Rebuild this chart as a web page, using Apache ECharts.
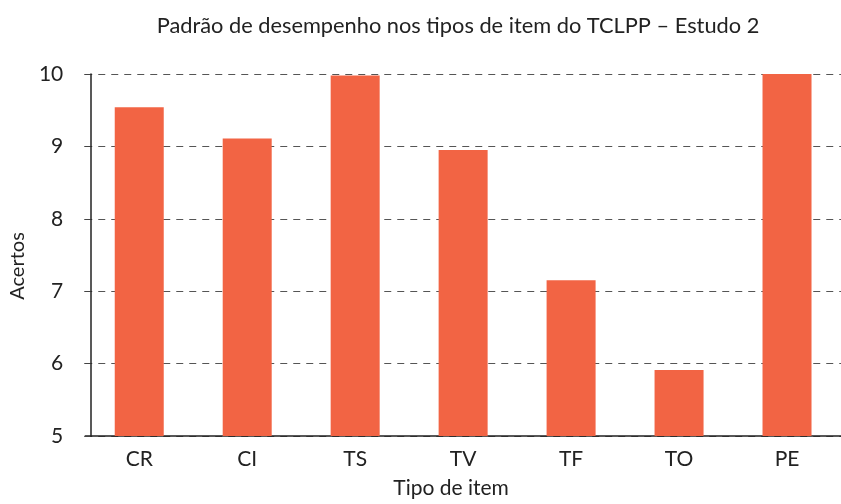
<!DOCTYPE html>
<html><head><meta charset="utf-8">
<script src="https://cdn.jsdelivr.net/npm/echarts@6/dist/echarts.min.js"></script>
<style>html,body{margin:0;padding:0;background:#fff}#c{width:841px;height:504px}</style>
</head><body><div id="c"></div>
<script>
const categories = ['CR','CI','TS','TV','TF','TO','PE'];
const values = [9.54, 9.11, 9.98, 8.95, 7.15, 5.91, 10.0];
const yTicks = [5,6,7,8,9,10];
const titleText = 'Padrão de desempenho nos tipos de item do TCLPP – Estudo 2';
const font = 'Lato';
const chart = echarts.init(document.getElementById('c'), null, {renderer:'canvas'});
chart.setOption({
  animation:false,
  backgroundColor:'#fff',
  title:{text:titleText,left:453,top:10,textAlign:'center',textStyle:{fontFamily:font,fontSize:21.8,fontWeight:'normal',color:'#222'}},
  grid:{left:82,right:-11,top:74,bottom:62,containLabel:false},
  xAxis:{type:'category',data:categories,
    name:'Tipo de item',nameLocation:'middle',nameGap:42,
    nameTextStyle:{fontFamily:font,fontSize:21,color:'#222',padding:[0,24,0,0]},
    axisLine:{lineStyle:{color:'#222',width:1.5}},
    axisTick:{show:false},
    axisLabel:{fontFamily:font,fontSize:21,color:'#222',margin:13}},
  yAxis:{type:'value',min:5,max:10,interval:1,offset:-5,
    name:'Acertos',nameLocation:'middle',nameGap:62,
    nameTextStyle:{fontFamily:font,fontSize:20,color:'#222',padding:[0,22,0,0]},
    axisLine:{show:true,lineStyle:{color:'#222',width:1.5}},
    axisTick:{show:true,length:6,lineStyle:{color:'#444'}},
    axisLabel:{fontFamily:font,fontSize:21,color:'#222',margin:27,
      formatter:v=>yTicks.includes(v)?String(v):''},
    splitLine:{show:true,lineStyle:{color:'#555',type:[7,6],width:1}}},
  series:[{type:'bar',data:values,barWidth:49,itemStyle:{color:'#F26444'}}]
});
</script></body></html>
